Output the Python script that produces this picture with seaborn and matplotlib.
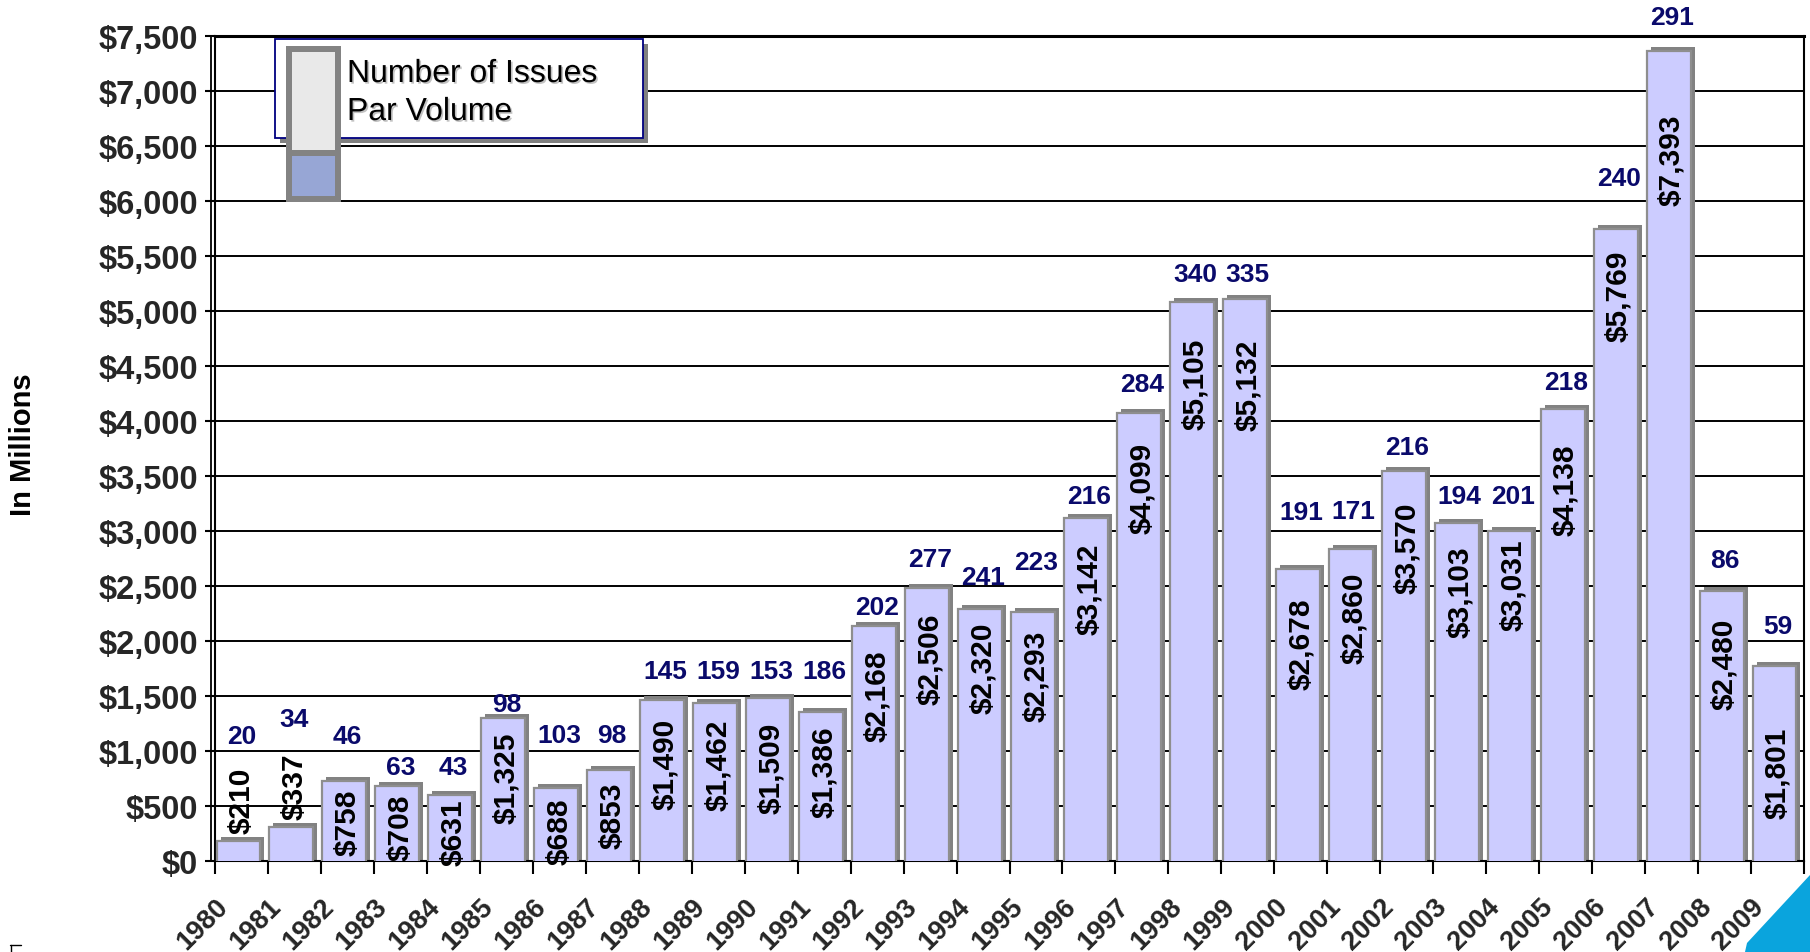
import matplotlib
matplotlib.use("Agg")
import numpy as np
import pandas as pd
import matplotlib.pyplot as plt
import seaborn as sns
import matplotlib.patheffects as pe
from matplotlib.transforms import ScaledTranslation
from matplotlib.patches import Rectangle, Polygon
from matplotlib.lines import Line2D

# ---- data -------------------------------------------------------------
years = ["1980", "1981", "1982", "1983", "1984", "1985", "1986", "1987",
         "1988", "1989", "1990", "1991", "1992", "1993", "1994", "1995",
         "1996", "1997", "1998", "1999", "2000", "2001", "2002", "2003",
         "2004", "2005", "2006", "2007", "2008", "2009"]
par_volume = [210, 337, 758, 708, 631, 1325, 688, 853, 1490, 1462,
              1509, 1386, 2168, 2506, 2320, 2293, 3142, 4099, 5105, 5132,
              2678, 2860, 3570, 3103, 3031, 4138, 5769, 7393, 2480, 1801]
num_issues = [20, 34, 46, 63, 43, 98, 103, 98, 145, 159,
              153, 186, 202, 277, 241, 223, 216, 284, 340, 335,
              191, 171, 216, 194, 201, 218, 240, 291, 86, 59]
y_ticks = [0, 500, 1000, 1500, 2000, 2500, 3000, 3500, 4000, 4500,
           5000, 5500, 6000, 6500, 7000, 7500]

# ---- label placement (layout only) -------------------------------------
# height (in $ millions) where each issue-count label is centred
issue_label_y = [1136, 1291, 1136, 853, 853, 1427, 1145, 1145, 1727, 1727,
                 1727, 1727, 2309, 2745, 2582, 2718, 3318, 4336, 5336, 5336,
                 3173, 3180, 3764, 3318, 3318, 4354, 6209, 7673, 2736, 2136]
# how far (px) below the bar top each volume label starts
volume_label_drop = [0, 0, 11, 11, 7, 16, 12, 14, 21, 18,
                     27, 17, 27, 27, 16, 21, 27, 32, 38, 42,
                     31, 25, 33, 26, 11, 38, 23, 66, 29, 64]

W, H, DPI = 1810, 953, 100

sns.set_theme(style="white")
plt.rcParams["font.family"] = ["Liberation Sans", "DejaVu Sans"]

fig = plt.figure(figsize=(W / DPI, H / DPI), dpi=DPI)
ax = fig.add_axes([215 / W, 91 / H, (1804 - 215) / W, (862 - 37) / H])

df = pd.DataFrame({"year": years, "par": par_volume})


def shifted(dx, dy):
    return ax.transData + ScaledTranslation(dx / DPI, dy / DPI, fig.dpi_scale_trans)


# 3-D style depth behind each column
n0 = len(ax.patches)
sns.barplot(data=df, x="year", y="par", color="#828282", saturation=1,
            width=0.83, edgecolor="none", errorbar=None, ax=ax, zorder=2)
for p in ax.patches[n0:]:
    p.set_transform(shifted(1, 1))

# column faces
n1 = len(ax.patches)
sns.barplot(data=df, x="year", y="par", color="#CCCCFF", saturation=1,
            width=0.83, edgecolor="#8E8E8E", linewidth=1.6, errorbar=None,
            ax=ax, zorder=3)
for p in ax.patches[n1:]:
    p.set_transform(shifted(-3, -3))

# ---- axes styling -----------------------------------------------------
ax.set_ylim(0, 7500)
ax.set_xlim(-0.5, len(years) - 0.5)
ax.set_yticks(y_ticks)
ax.set_yticklabels([f"${v:,}" for v in y_ticks], fontsize=23.5, fontweight="bold")
ax.yaxis.grid(True, color="black", linewidth=1.4, zorder=1)
ax.set_axisbelow(True)

ax.set_xticks(range(len(years)))
ax.set_xticklabels(years, rotation=45, ha="right", va="top",
                   fontsize=19.5, fontweight="bold")
ax.set_xticks(np.arange(-0.5, len(years), 1), minor=True)
ax.tick_params(axis="x", which="major", length=0, pad=23)
ax.tick_params(axis="x", which="minor", length=9.5, width=1.5,
               color="black", direction="out", bottom=True)
ax.tick_params(axis="y", which="major", length=7.2, width=1.5,
               color="black", direction="out", left=True, pad=5)
for lab in ax.get_xticklabels():
    lab.set_transform(lab.get_transform()
                      + ScaledTranslation(-8 / DPI, 0, fig.dpi_scale_trans))
ax.set_xlabel("")
ax.set_ylabel("")

for side in ["left", "right", "bottom", "top"]:
    ax.spines[side].set_color("black")
    ax.spines[side].set_linewidth(1.5)
ax.spines["top"].set_linewidth(2.2)
# second line of the wall edge on the left
ax.add_line(Line2D([0, 0], [0, 1], color="black", linewidth=1.3,
                   transform=ax.transAxes
                   + ScaledTranslation(-4 / DPI, 0, fig.dpi_scale_trans),
                   clip_on=False))

# ---- value labels -----------------------------------------------------
for i, v in enumerate(par_volume):
    txt = f"${v:,}"
    if v < 600:
        ax.text(i, v, txt, rotation=90, ha="center", va="bottom",
                fontsize=21.5, fontweight="bold", color="black",
                transform=shifted(0, 5), zorder=5)
    else:
        ax.text(i, v, txt, rotation=90, ha="center", va="top",
                fontsize=21.5, fontweight="bold", color="black",
                transform=shifted(0, -volume_label_drop[i]), zorder=5)

for i, (n, y) in enumerate(zip(num_issues, issue_label_y)):
    ax.text(i, y, f"{n}", ha="center", va="center", fontsize=19,
            fontweight="bold", color="#0A0A6B", zorder=5)

# ---- y-axis title -----------------------------------------------------
fig.text(23 / W, 1 - 445 / H, "In Millions", rotation=90, ha="center",
         va="center", fontsize=21, fontweight="bold", color="black")


# ---- legend -----------------------------------------------------------
def fig_rect(x0, y0, x1, y1, **kw):
    return Rectangle((x0 / W, 1 - y1 / H), (x1 - x0) / W, (y1 - y0) / H,
                     transform=fig.transFigure, **kw)


fig.add_artist(fig_rect(280, 45, 648, 144, facecolor="#808080",
                        edgecolor="none", zorder=4))
fig.add_artist(fig_rect(275, 40, 643, 139, facecolor="white",
                        edgecolor="#000080", linewidth=1.3, zorder=5))
fig.add_artist(fig_rect(286, 47, 341, 203, facecolor="#838383",
                        edgecolor="none", zorder=6))
fig.add_artist(fig_rect(292, 53, 335, 151, facecolor="#E9E9E9",
                        edgecolor="none", zorder=7))
fig.add_artist(fig_rect(292, 157, 335, 197, facecolor="#97A6D5",
                        edgecolor="none", zorder=7))
shadow = [pe.withSimplePatchShadow(offset=(1.2, -1.2), shadow_rgbFace="#9a9a9a",
                                   alpha=0.6)]
fig.text(347 / W, 1 - 75 / H, "Number of Issues", ha="left", va="center",
         fontsize=23, color="black", zorder=8, path_effects=shadow)
fig.text(347 / W, 1 - 113 / H, "Par Volume", ha="left", va="center",
         fontsize=23, color="black", zorder=8, path_effects=shadow)

# ---- page corner decorations -----------------------------------------
corner = [(1745, 953), (1747, 944), (1810, 876), (1810, 953)]
fig.add_artist(Polygon([(x / W, 1 - y / H) for x, y in corner],
                       closed=True, transform=fig.transFigure,
                       facecolor="#0AA4DD", edgecolor="none", zorder=3))
fig.add_artist(Line2D([10 / W, 21 / W], [1 - 946 / H, 1 - 946 / H],
                      transform=fig.transFigure, color="black", linewidth=1))
fig.add_artist(Line2D([11 / W, 11 / W], [1 - 946 / H, 1 - 953 / H],
                      transform=fig.transFigure, color="black", linewidth=1))

fig.savefig("out.png", dpi=DPI)
